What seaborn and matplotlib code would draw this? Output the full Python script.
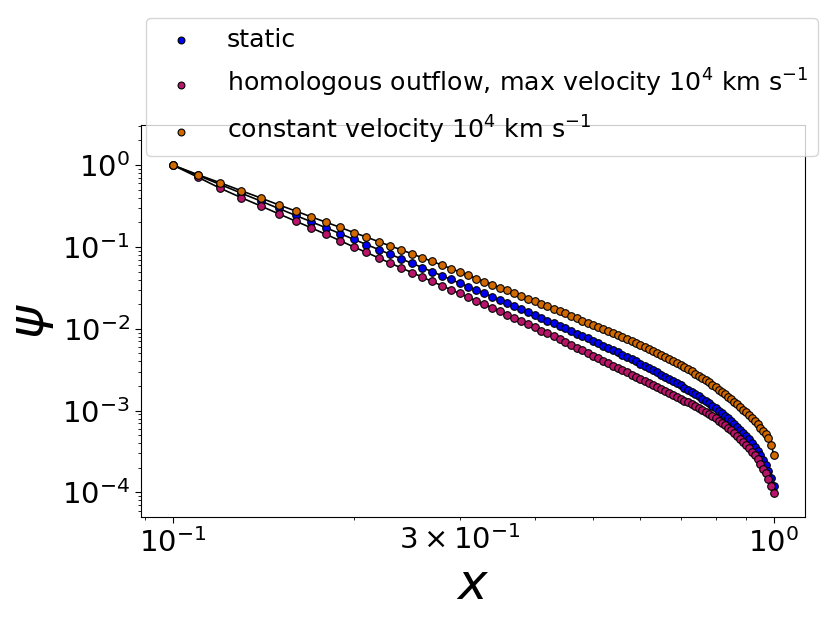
import numpy as np
import matplotlib
matplotlib.use("Agg")
import matplotlib.pyplot as plt
import matplotlib.ticker as mticker
import seaborn as sns

# radial coordinate
x = [0.10, 0.11, 0.12, 0.13, 0.14, 0.15, 0.16, 0.17, 0.18, 0.19,
     0.20, 0.21, 0.22, 0.23, 0.24, 0.25, 0.26, 0.27, 0.28, 0.29,
     0.30, 0.31, 0.32, 0.33, 0.34, 0.35, 0.36, 0.37, 0.38, 0.39,
     0.40, 0.41, 0.42, 0.43, 0.44, 0.45, 0.46, 0.47, 0.48, 0.49,
     0.50, 0.51, 0.52, 0.53, 0.54, 0.55, 0.56, 0.57, 0.58, 0.59,
     0.60, 0.61, 0.62, 0.63, 0.64, 0.65, 0.66, 0.67, 0.68, 0.69,
     0.70, 0.71, 0.72, 0.73, 0.74, 0.75, 0.76, 0.77, 0.78, 0.79,
     0.80, 0.81, 0.82, 0.83, 0.84, 0.85, 0.86, 0.87, 0.88, 0.89,
     0.90, 0.91, 0.92, 0.93, 0.94, 0.95, 0.96, 0.97, 0.98, 0.99, 1.00]

psi_static = [1.000, 0.750, 0.578, 0.454, 0.364, 0.295, 0.243, 0.203, 0.171, 0.145,
              0.124, 0.107, 0.0930, 0.0813, 0.0715, 0.0631, 0.0560, 0.0499, 0.0447, 0.0401,
              0.0362, 0.0327, 0.0296, 0.0270, 0.0246, 0.0224, 0.0206, 0.0189, 0.0173, 0.0160,
              0.0147, 0.0136, 0.0126, 0.0117, 0.0109, 0.0101, 0.00939, 0.00875, 0.00816, 0.00762,
              0.00712, 0.00666, 0.00623, 0.00584, 0.00547, 0.00513, 0.00481, 0.00452, 0.00425, 0.00399,
              0.00375, 0.00353, 0.00332, 0.00312, 0.00294, 0.00276, 0.00260, 0.00245, 0.00230, 0.00216,
              0.00204, 0.00191, 0.00180, 0.00169, 0.00159, 0.00149, 0.00140, 0.00131, 0.00123, 0.00115,
              0.00107, 0.00100, 0.000934, 0.000869, 0.000807, 0.000748, 0.000692, 0.000639, 0.000587, 0.000539,
              0.000492, 0.000447, 0.000404, 0.000363, 0.000324, 0.000286, 0.000250, 0.000216, 0.000183, 0.000151,
              0.000120]

psi_homologous = [1.000, 0.713, 0.520, 0.400, 0.317, 0.254, 0.207, 0.171, 0.142, 0.119,
                  0.100, 0.0856, 0.0735, 0.0634, 0.0554, 0.0486, 0.0428, 0.0379, 0.0337, 0.0301,
                  0.0270, 0.0243, 0.0218, 0.0198, 0.0180, 0.0163, 0.0149, 0.0136, 0.0124, 0.0114,
                  0.0104, 0.00952, 0.00876, 0.00807, 0.00747, 0.00687, 0.00634, 0.00586, 0.00543, 0.00503,
                  0.00466, 0.00434, 0.00405, 0.00379, 0.00354, 0.00332, 0.00312, 0.00293, 0.00275, 0.00259,
                  0.00244, 0.00229, 0.00216, 0.00204, 0.00193, 0.00182, 0.00173, 0.00164, 0.00155, 0.00147,
                  0.00140, 0.00132, 0.00126, 0.00119, 0.00113, 0.00107, 0.00102, 0.000959, 0.000908, 0.000856,
                  0.000803, 0.000754, 0.000708, 0.000662, 0.000618, 0.000576, 0.000534, 0.000495, 0.000456, 0.000419,
                  0.000383, 0.000348, 0.000315, 0.000283, 0.000253, 0.000223, 0.000196, 0.000171, 0.000145, 0.000121,
                  0.0000972]

psi_constant = [1.000, 0.765, 0.607, 0.486, 0.397, 0.327, 0.275, 0.233, 0.200, 0.173,
                0.150, 0.132, 0.116, 0.103, 0.0922, 0.0823, 0.0739, 0.0666, 0.0603, 0.0545,
                0.0496, 0.0451, 0.0411, 0.0378, 0.0347, 0.0318, 0.0295, 0.0272, 0.0251, 0.0234,
                0.0216, 0.0201, 0.0188, 0.0176, 0.0165, 0.0154, 0.0144, 0.0135, 0.0126, 0.0119,
                0.0112, 0.0105, 0.00991, 0.00934, 0.00881, 0.00831, 0.00784, 0.00741, 0.00701, 0.00664,
                0.00630, 0.00597, 0.00564, 0.00534, 0.00506, 0.00477, 0.00452, 0.00429, 0.00404, 0.00381,
                0.00361, 0.00339, 0.00320, 0.00301, 0.00284, 0.00267, 0.00251, 0.00235, 0.00221, 0.00207,
                0.00193, 0.00181, 0.00170, 0.00159, 0.00148, 0.00138, 0.00129, 0.00120, 0.00112, 0.00103,
                0.000954, 0.000885, 0.000816, 0.000748, 0.000680, 0.000621, 0.000563, 0.000512, 0.000458, 0.000385,
                0.000288]

labels = ['static',
          r'homologous outflow, max velocity $10^4$ km s$^{-1}$',
          r'constant velocity $10^4$ km s$^{-1}$']
colors = ['#0000f0', '#b8146a', '#d06a00']
series = [psi_static, psi_homologous, psi_constant]

fig = plt.figure(figsize=(8.30, 6.23), dpi=100)
ax = fig.add_axes([141/830, 1 - 517/623, 664/830, 392/623])

for ys, col, lab in zip(series, colors, labels):
    sns.lineplot(x=x, y=ys, color='k', lw=1.2, ax=ax, zorder=2, legend=False)
    sns.scatterplot(x=x, y=ys, color=col, edgecolor='k', linewidth=0.8, s=30,
                    ax=ax, zorder=3, label=lab)

ax.set_xscale('log')
ax.set_yscale('log')
ax.set_xlim(10**-1.053, 10**0.052)
ax.set_ylim(10**-4.30, 10**0.49)

ax.tick_params(which='both', labelsize=21)
ax.tick_params(which='major', length=4.5)
ax.tick_params(which='minor', length=2.5)
ax.xaxis.set_minor_formatter(mticker.FuncFormatter(
    lambda v, pos: r'$\mathdefault{3\times10^{-1}}$' if abs(v - 0.3) < 1e-9 else ''))

ax.set_xlabel(r'$x$', fontsize=36, labelpad=2)
ax.set_ylabel(r'$\psi$', fontsize=36, labelpad=4)

ax.legend(loc='upper left', bbox_to_anchor=(146/830, 1 - 17.5/623),
          bbox_transform=fig.transFigure, borderaxespad=0, fontsize=18.2,
          markerscale=0.9, handletextpad=0.8, labelspacing=0.6)

fig.savefig('out.png', dpi=100)
